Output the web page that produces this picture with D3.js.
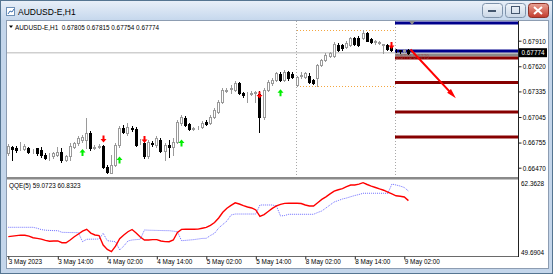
<!DOCTYPE html>
<html>
<head>
<meta charset="utf-8">
<script src="https://cdn.jsdelivr.net/npm/d3@7"></script>
<style>
  body { margin: 0; background: #fff; }
  svg { display: block; font-family: "Liberation Sans", Arial, sans-serif; }
</style>
</head>
<body>
<div class="canvas"></div>
<script>
// chart data
const symbol = "AUDUSD-E,H1";
const lastQuote = [0.67805, 0.67815, 0.67754, 0.67774];

const opens = [
  0.66637, 0.66705, 0.66693, 0.66705, 0.66685, 0.66693, 0.66659, 0.66688, 0.66671, 0.66614,
  0.66597, 0.666, 0.66614, 0.66651, 0.66557, 0.666, 0.66708, 0.6675, 0.66784, 0.66784,
  0.66863, 0.66699, 0.6671, 0.66716, 0.66478, 0.66413, 0.665, 0.66727, 0.6692, 0.66867,
  0.6692, 0.66914, 0.66761, 0.6675, 0.666, 0.6675, 0.66727, 0.66784, 0.66663, 0.66727,
  0.66701, 0.66765, 0.66973, 0.67039, 0.6696, 0.66914, 0.66926, 0.66935, 0.66991, 0.66973,
  0.67048, 0.67105, 0.67219, 0.67345, 0.67368, 0.67351, 0.67425, 0.67313, 0.673, 0.67311,
  0.67317, 0.67306, 0.67045, 0.67351, 0.67427, 0.67464, 0.67538, 0.67464, 0.67555, 0.67538,
  0.67408, 0.6751, 0.67502, 0.6751, 0.67464, 0.67484, 0.67634, 0.67691, 0.67736, 0.67736,
  0.67861, 0.67856, 0.67842, 0.67861, 0.67937, 0.67946, 0.67937, 0.68001, 0.67926, 0.67895,
  0.67884, 0.67861, 0.67861, 0.67835, 0.67805, 0.67799, 0.67793, 0.67805
];
const highs = [
  0.66739, 0.66716, 0.66716, 0.66761, 0.66739, 0.66705, 0.66682, 0.66693, 0.66705, 0.66637,
  0.66637, 0.66648, 0.66708, 0.66693, 0.66614, 0.6675, 0.66761, 0.66829, 0.66841, 0.67033,
  0.66886, 0.66727, 0.66739, 0.66727, 0.665, 0.66614, 0.6675, 0.66943, 0.66954, 0.66977,
  0.66943, 0.66931, 0.66795, 0.66761, 0.66784, 0.66773, 0.66829, 0.66807, 0.6675, 0.66784,
  0.66807, 0.67011, 0.67067, 0.67056, 0.66977, 0.66937, 0.66948, 0.66999, 0.67011, 0.67067,
  0.67147, 0.67238, 0.67374, 0.67374, 0.67408, 0.67453, 0.67442, 0.67328, 0.67328, 0.67334,
  0.6734, 0.6734, 0.67374, 0.67464, 0.67487, 0.67555, 0.67555, 0.67578, 0.67566, 0.67555,
  0.6751, 0.67555, 0.67555, 0.67549, 0.67481, 0.67651, 0.67708, 0.67765, 0.67782, 0.6789,
  0.67884, 0.67873, 0.67907, 0.67952, 0.67952, 0.67963, 0.68031, 0.68014, 0.67941, 0.67918,
  0.67907, 0.67878, 0.67873, 0.6785, 0.67816, 0.6781, 0.67812, 0.67815
];
const lows = [
  0.66614, 0.66557, 0.66648, 0.66671, 0.66671, 0.66637, 0.66637, 0.66614, 0.66591, 0.66568,
  0.66557, 0.6658, 0.666, 0.66538, 0.66546, 0.66557, 0.66693, 0.66727, 0.66761, 0.66693,
  0.66671, 0.66682, 0.66693, 0.66466, 0.6641, 0.66406, 0.66489, 0.66705, 0.66863, 0.66841,
  0.66886, 0.66716, 0.66739, 0.6658, 0.6658, 0.66716, 0.66705, 0.66648, 0.66557, 0.66591,
  0.66614, 0.6675, 0.66954, 0.66943, 0.66892, 0.66897, 0.66909, 0.6692, 0.66954, 0.66965,
  0.67033, 0.6709, 0.67204, 0.67328, 0.67317, 0.6734, 0.67306, 0.67272, 0.67219, 0.67294,
  0.67219, 0.66878, 0.67022, 0.6734, 0.67408, 0.67453, 0.67453, 0.67453, 0.6747, 0.67487,
  0.674, 0.67487, 0.67487, 0.67436, 0.67419, 0.67402, 0.67623, 0.6768, 0.67725, 0.67725,
  0.67793, 0.67805, 0.67827, 0.6785, 0.67861, 0.6785, 0.67929, 0.67901, 0.67884, 0.67878,
  0.67873, 0.67767, 0.67805, 0.67793, 0.67782, 0.67776, 0.67782, 0.67754
];
const closes = [
  0.66716, 0.66682, 0.66671, 0.6671, 0.66716, 0.66651, 0.66665, 0.6664, 0.66614, 0.6658,
  0.66602, 0.66637, 0.66651, 0.66557, 0.666, 0.66716, 0.6675, 0.66807, 0.66818, 0.66863,
  0.66693, 0.66705, 0.66716, 0.66474, 0.66425, 0.665, 0.66727, 0.6692, 0.66878, 0.66935,
  0.66914, 0.66727, 0.66767, 0.666, 0.66765, 0.66739, 0.66807, 0.66663, 0.66727, 0.66701,
  0.66765, 0.66991, 0.67041, 0.66954, 0.66905, 0.6692, 0.66931, 0.6698, 0.66965, 0.67048,
  0.67124, 0.67219, 0.67351, 0.67351, 0.67374, 0.67427, 0.67313, 0.67294, 0.67306, 0.67317,
  0.67323, 0.67045, 0.67351, 0.67445, 0.6747, 0.6754, 0.67464, 0.67559, 0.67484, 0.67498,
  0.67495, 0.67521, 0.6754, 0.67445, 0.6743, 0.67634, 0.67691, 0.67748, 0.67767, 0.67873,
  0.67805, 0.67824, 0.67884, 0.67937, 0.67873, 0.67861, 0.68001, 0.6791, 0.67899, 0.67901,
  0.6789, 0.67867, 0.67813, 0.67805, 0.67799, 0.67793, 0.6781, 0.67774
];

// QQE(5): smoothed rsi and trailing line
const qqeMain = [
  52.46, 52.55, 52.65, 52.74, 52.70, 52.54, 52.26, 52.13, 51.99, 51.77,
  51.60, 51.66, 51.66, 51.34, 51.33, 51.84, 52.43, 52.94, 53.46, 53.81,
  53.11, 52.76, 52.65, 50.92, 50.11, 49.6904, 50.70, 52.08, 52.76, 53.36,
  53.77, 53.12, 52.39, 51.84, 51.84, 51.91, 51.91, 51.66, 51.55, 51.53,
  51.84, 53.22, 53.79, 53.81, 53.81, 53.82, 53.84, 53.99, 54.15, 54.54,
  55.04, 55.88, 56.93, 57.68, 58.21, 58.67, 58.45, 58.16, 57.90, 57.72,
  57.35, 56.16, 56.50, 57.07, 57.64, 58.10, 58.38, 58.56, 58.58, 58.58,
  58.58, 58.54, 58.27, 58.08, 58.08, 58.69, 59.30, 59.77, 60.31, 60.80,
  61.06, 61.26, 61.63, 61.94, 61.94, 62.09, 62.3628, 62.03, 61.74, 61.48,
  61.22, 60.98, 60.63, 60.29, 59.96, 59.87, 59.74, 59.0723
];
const qqeSignal = [
  54.17, 54.17, 54.17, 54.17, 54.17, 54.17, 54.17, 54.00, 53.75, 53.64,
  53.60, 53.56, 53.55, 53.25, 53.23, 53.21, 53.20, 53.18, 51.53, 51.97,
  51.99, 52.00, 52.02, 53.07, 51.71, 51.62, 51.53, 50.00, 50.73, 51.66,
  51.84, 51.91, 51.97, 53.68, 53.64, 53.62, 53.60, 53.58, 53.56, 53.55,
  53.46, 53.36, 51.71, 51.77, 51.84, 51.91, 52.02, 52.13, 52.15, 52.67,
  53.07, 54.04, 54.69, 55.33, 56.43, 56.61, 56.61, 56.61, 56.61, 56.61,
  56.61, 58.27, 58.27, 58.27, 58.27, 58.08, 56.25, 56.34, 56.56, 56.56,
  56.56, 56.56, 56.56, 56.56, 56.56, 56.89, 57.17, 57.72, 58.27, 58.82,
  59.09, 59.37, 59.55, 59.79, 60.01, 60.19, 60.42, 60.42, 60.42, 60.42,
  60.42, 60.42, 60.42, 62.12, 61.94, 61.75, 61.48, 60.8323
];
const qqeRange = [49.6904, 62.3628];

// signal arrows (bar index, price)
const buyBars = [18, 27, 42, 66];
const buyPrices = [0.66642, 0.66557, 0.6675, 0.6732];
const sellBars = [23, 33, 61, 93];
const sellPrices = [0.66795, 0.6679, 0.67294, 0.67855];

// levels drawn from the day start
const blueLevels = [0.68111, 0.67793];
const greyLevels = [0.67748];
const redLevels = [0.67714, 0.67436, 0.67101, 0.66818];
const separatorBars = [70, 94];
const trendFrom = [97.5, 0.6781];
const trendTo = [108.5, 0.67258];
const levelNote = "0.6776 0.6779";

const priceTicks = [0.6791, 0.6762, 0.67335, 0.67045, 0.66755, 0.6647];
const timeLabels = ["3 May 2023", "3 May 14:00", "4 May 02:00", "4 May 14:00", "5 May 02:00",
  "5 May 14:00", "8 May 02:00", "8 May 14:00", "9 May 02:00"];
const timeBars = [0, 12, 24, 36, 48, 60, 72, 84, 96];

const W = 553, H = 274;
const plot = { left: 7, right: 518, top: 21, mainBottom: 177, subTop: 180, subBottom: 256, client: 548, foot: 268 };
const squeeze = "scale(0.85,1)";
const fmt5 = d3.format(".5f");

const svg = d3.select(".canvas").append("svg").attr("width", W).attr("height", H);
const defs = svg.append("defs");

const grad = (id, c1, c2) => {
  const g = defs.append("linearGradient").attr("id", id).attr("x1", 0).attr("y1", 0).attr("x2", 0).attr("y2", 1);
  g.append("stop").attr("offset", 0).attr("stop-color", c1);
  g.append("stop").attr("offset", 1).attr("stop-color", c2);
};
grad("titleGrad", "#e8eff8", "#c6d8ed");
grad("btnGrad", "#f1f5fa", "#c9d6e6");
grad("closeGrad", "#e9a395", "#c2392c");

// window frame
svg.append("rect").attr("x", 0.5).attr("y", 0.5).attr("width", W - 1).attr("height", H - 1)
  .attr("fill", "#c4d6eb").attr("stroke", "#557591");
svg.append("rect").attr("x", 1).attr("y", 1).attr("width", W - 2).attr("height", 19).attr("fill", "url(#titleGrad)");

// title icon and caption
const icon = svg.append("g").attr("transform", "translate(6,7)");
icon.append("rect").attr("x", 0.5).attr("y", 0.5).attr("width", 8).attr("height", 8).attr("fill", "#fff").attr("stroke", "#6d8fb5");
icon.append("path").attr("d", "M2,7L4,4L6,5L8,2").attr("fill", "none").attr("stroke", "#3b6fb0");
svg.append("text").attr("x", 18).attr("y", 15).attr("font-size", 8.5).attr("fill", "#000").text(symbol);

// caption buttons
const buttons = [
  { x: 482, fill: "url(#btnGrad)", stroke: "#7f93ab" },
  { x: 505, fill: "url(#btnGrad)", stroke: "#7f93ab" },
  { x: 528, fill: "url(#closeGrad)", stroke: "#8d3229" }
];
svg.selectAll("rect.btn").data(buttons).join("rect").attr("class", "btn")
  .attr("x", (d) => d.x + 0.5).attr("y", 3.5).attr("width", 20).attr("height", 14).attr("rx", 3)
  .attr("fill", (d) => d.fill).attr("stroke", (d) => d.stroke);
svg.append("rect").attr("x", 488).attr("y", 10).attr("width", 8).attr("height", 2).attr("fill", "#44566e");
svg.append("rect").attr("x", 511.5).attr("y", 6.5).attr("width", 8).attr("height", 7).attr("fill", "none")
  .attr("stroke", "#44566e");
svg.append("path").attr("d", "M534,7L542,14M542,7L534,14").attr("stroke", "#fff").attr("stroke-width", 2);

// chart client area
svg.append("rect").attr("x", plot.left - 0.5).attr("y", plot.top - 0.5)
  .attr("width", plot.client - plot.left + 1).attr("height", plot.foot - plot.top + 1)
  .attr("fill", "#fff").attr("stroke", "#8d9db2");

// scales
const x = d3.scaleLinear().domain([0, 96]).range([8.3, 404.3]);
const y = d3.scaleLinear().domain([priceTicks[5], priceTicks[0]]).range([167.7, 40.7]);
const yq = d3.scaleLinear().domain(qqeRange).range([251.7, 182.7]);

const main = svg.append("g");

// period separators
main.selectAll("line.sep").data(separatorBars).join("line").attr("class", "sep")
  .attr("x1", (d) => Math.floor(x(d)) - 0.5).attr("x2", (d) => Math.floor(x(d)) - 0.5)
  .attr("y1", plot.top).attr("y2", plot.mainBottom)
  .attr("stroke", "#a8a8a8").attr("stroke-dasharray", "1,2");

// day high / low box
const dayHigh = d3.max(highs.slice(separatorBars[0], separatorBars[1]));
const dayLow = d3.min(lows.slice(separatorBars[0], separatorBars[1]));
main.selectAll("line.day").data([dayHigh, dayLow]).join("line").attr("class", "day")
  .attr("x1", Math.floor(x(separatorBars[0]))).attr("x2", Math.floor(x(separatorBars[1])) - 1)
  .attr("y1", (d) => Math.round(y(d)) + 0.5).attr("y2", (d) => Math.round(y(d)) + 0.5)
  .attr("stroke", "#f4a640").attr("stroke-dasharray", "1,2");

// bid line
main.append("line").attr("x1", plot.left).attr("x2", plot.right)
  .attr("y1", y(lastQuote[3])).attr("y2", y(lastQuote[3]))
  .attr("stroke", "#cfcfcf").attr("stroke-width", 1.5);

// horizontal levels
const levelStart = Math.floor(x(separatorBars[1])) - 1;
const levels = [
  ...blueLevels.map((p) => ({ p, c: "#00008c" })),
  ...greyLevels.map((p) => ({ p, c: "#8a8a8a" })),
  ...redLevels.map((p) => ({ p, c: "#870000" }))
];
main.selectAll("line.lvl").data(levels).join("line").attr("class", "lvl")
  .attr("x1", levelStart).attr("x2", plot.right)
  .attr("y1", (d) => y(d.p)).attr("y2", (d) => y(d.p))
  .attr("stroke", (d) => d.c).attr("stroke-width", 3);

main.append("text").attr("transform", `translate(${levelStart + 1},${y(redLevels[0]) + 1}) scale(0.8,1)`)
  .attr("font-size", 6.5).attr("fill", "#9a5050").attr("opacity", 0.85).text(levelNote);

// chart shift marker
main.append("path").attr("d", "M409,21L415,21L412,25Z").attr("fill", "#8c8c8c");

// candles
const bars = opens.map((o, i) => ({ i, o, h: highs[i], l: lows[i], c: closes[i] }));
const col = (i) => Math.floor(x(i));
const candles = main.selectAll("g.bar").data(bars).join("g").attr("class", "bar");
candles.append("line")
  .attr("x1", (d) => col(d.i) + 0.5).attr("x2", (d) => col(d.i) + 0.5)
  .attr("y1", (d) => Math.round(y(d.h))).attr("y2", (d) => Math.round(y(d.l)) + 1)
  .attr("stroke", (d) => (d.c >= d.o ? "#9a9a9a" : "#000"));
candles.append("rect")
  .attr("x", (d) => col(d.i) - 0.5)
  .attr("y", (d) => Math.round(y(Math.max(d.o, d.c))) + 0.5)
  .attr("width", 2)
  .attr("height", (d) => Math.max(0, Math.round(y(Math.min(d.o, d.c))) - Math.round(y(Math.max(d.o, d.c)))))
  .attr("fill", (d) => (d.c >= d.o ? "#fff" : "#000"))
  .attr("stroke", (d) => (d.c >= d.o ? "#9a9a9a" : "#000"));

// signal arrows
const upArrow = (cx, cy) =>
  `M${cx},${cy - 3.5}L${cx + 3},${cy}L${cx + 1},${cy}L${cx + 1},${cy + 3.5}L${cx - 1},${cy + 3.5}L${cx - 1},${cy}L${cx - 3},${cy}Z`;
const downArrow = (cx, cy) =>
  `M${cx},${cy + 3.5}L${cx + 3},${cy}L${cx + 1},${cy}L${cx + 1},${cy - 3.5}L${cx - 1},${cy - 3.5}L${cx - 1},${cy}L${cx - 3},${cy}Z`;
main.selectAll("path.buy").data(buyBars).join("path").attr("class", "buy")
  .attr("d", (d, i) => upArrow(col(d) + 0.5, y(buyPrices[i]))).attr("fill", "#00ee00");
main.selectAll("path.sell").data(sellBars).join("path").attr("class", "sell")
  .attr("d", (d, i) => downArrow(col(d) + 0.5, y(sellPrices[i]))).attr("fill", "#ff0000");

// projected move arrow
const ax1 = x(trendFrom[0]), ay1 = y(trendFrom[1]);
const ax2 = x(trendTo[0]), ay2 = y(trendTo[1]);
const ang = Math.atan2(ay2 - ay1, ax2 - ax1);
main.append("line").attr("x1", ax1).attr("y1", ay1)
  .attr("x2", ax2 - 6 * Math.cos(ang)).attr("y2", ay2 - 6 * Math.sin(ang))
  .attr("stroke", "#ff0000").attr("stroke-width", 2);
const head = [
  [ax2, ay2],
  [ax2 - 10 * Math.cos(ang) + 2.6 * Math.sin(ang), ay2 - 10 * Math.sin(ang) - 2.6 * Math.cos(ang)],
  [ax2 - 10 * Math.cos(ang) - 2.6 * Math.sin(ang), ay2 - 10 * Math.sin(ang) + 2.6 * Math.cos(ang)]
];
main.append("path").attr("d", d3.line()(head) + "Z").attr("fill", "#ff0000");

// chart header
main.append("path").attr("d", "M9,25.5L13,25.5L11,28Z").attr("fill", "#000");
main.append("text").attr("transform", `translate(15,29.5) ${squeeze}`)
  .attr("font-size", 7.5).style("white-space", "pre").attr("fill", "#000")
  .text(`${symbol}  ${lastQuote.map(fmt5).join(" ")}`);

// pane divider and bottom line
svg.append("rect").attr("x", plot.left).attr("y", plot.mainBottom).attr("width", plot.right - plot.left + 1)
  .attr("height", 2.5).attr("fill", "#8a8a8a");
svg.append("line").attr("x1", plot.left).attr("x2", plot.right + 1)
  .attr("y1", plot.subBottom + 0.5).attr("y2", plot.subBottom + 0.5).attr("stroke", "#6a6a6a");
svg.append("line").attr("x1", plot.right + 0.5).attr("x2", plot.right + 0.5)
  .attr("y1", plot.top).attr("y2", plot.subBottom + 1).attr("stroke", "#222");

// QQE pane
const qline = d3.line().x((d, i) => x(i)).y((d) => yq(d));
svg.append("path").datum(qqeSignal).attr("d", qline).attr("fill", "none")
  .attr("stroke", "#6d6dff").attr("stroke-width", 1).attr("stroke-dasharray", "1,1");
svg.append("path").datum(qqeMain).attr("d", qline).attr("fill", "none")
  .attr("stroke", "#ff0000").attr("stroke-width", 1.4);
svg.append("text").attr("transform", `translate(9,188) ${squeeze}`).attr("font-size", 7.5).attr("fill", "#000")
  .text(`QQE(5) ${d3.format(".4f")(qqeMain[qqeMain.length - 1])} ${d3.format(".4f")(qqeSignal[qqeSignal.length - 1])}`);

// axes
const styleAxis = (g) => {
  g.select(".domain").remove();
  g.attr("font-size", 7.5).attr("font-family", null);
  g.selectAll("line").attr("stroke", "#222");
  g.selectAll("text").attr("fill", "#000").attr("transform", squeeze);
};

svg.append("g").attr("transform", `translate(${plot.right + 0.5},0)`)
  .call(d3.axisRight(y).tickValues(priceTicks).tickSize(3).tickPadding(2).tickFormat(fmt5))
  .call(styleAxis);

svg.append("g").attr("transform", `translate(${plot.right + 0.5},0)`)
  .call(d3.axisRight(yq).tickValues(qqeRange).tickSize(0).tickPadding(3).tickFormat(d3.format(".4f")))
  .call(styleAxis);

svg.append("g").attr("transform", `translate(0,${plot.subBottom + 0.5})`)
  .call(d3.axisBottom(x).tickValues(timeBars).tickSize(3).tickFormat((d, i) => timeLabels[i]))
  .call(styleAxis)
  .call((g) => g.selectAll("text").attr("text-anchor", "start").attr("x", 0).attr("y", 2));

// current price tag
const yBid = y(lastQuote[3]);
svg.append("rect").attr("x", plot.right + 1).attr("y", yBid - 4.5).attr("width", 28).attr("height", 9).attr("fill", "#000");
svg.append("text").attr("transform", `translate(${plot.right + 3.5},${yBid + 2.6}) ${squeeze}`)
  .attr("font-size", 7.5).attr("fill", "#fff").text(fmt5(lastQuote[3]));
</script>
</body>
</html>
